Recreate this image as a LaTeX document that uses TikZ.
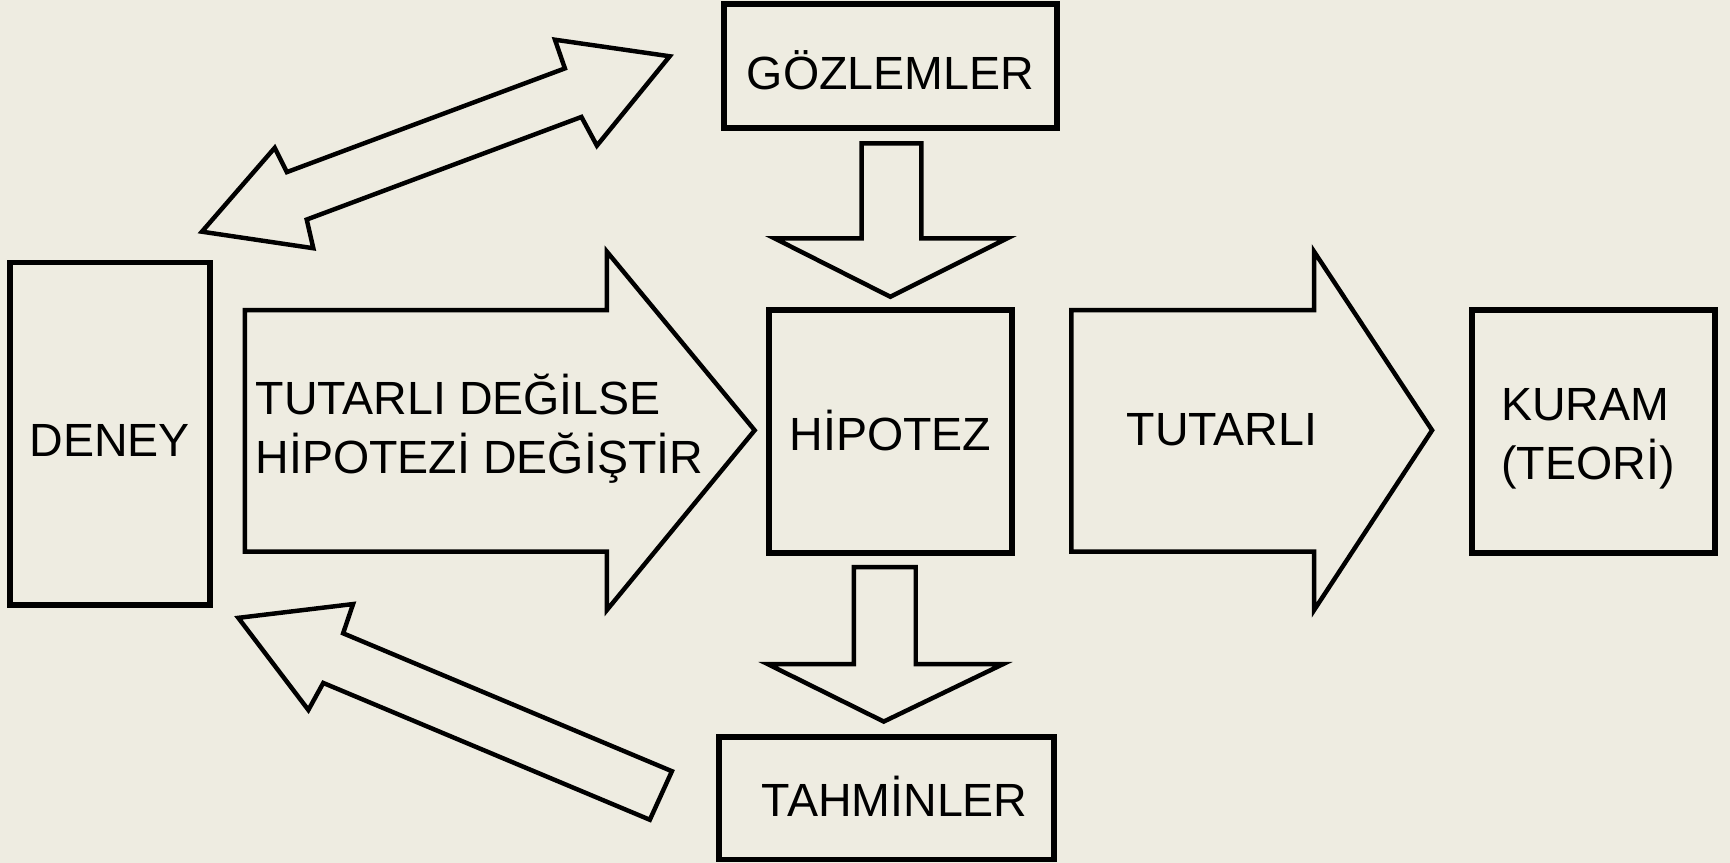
\documentclass[tikz,border=0pt]{standalone}
\usepackage{fontspec}
\setmainfont{Liberation Sans}
\usepackage{pgf,tikz}
\definecolor{zemin}{RGB}{238,236,225}

\begin{document}
\begin{tikzpicture}[x=0.01cm,y=-0.01cm,line join=miter, kutu/.style={draw=black,line width=1.5pt,inner sep=0pt}, okblok/.style={draw=black,line width=1.15pt}, yazi/.style={anchor=base,inner sep=0pt,text=black}]
    \fill[zemin] (0,0) rectangle (1568,782);
    \useasboundingbox (0,0) rectangle (1568,782);
    % kutular
    \node[kutu,minimum width=1.81cm,minimum height=3.10cm] (deney) at (99.5,393) {};
    \node[kutu,minimum width=3.02cm,minimum height=1.12cm] (gozlem) at (807,60) {};
    \node[kutu,minimum width=2.20cm,minimum height=2.20cm] (hipotez) at (807,391) {};
    \node[kutu,minimum width=2.20cm,minimum height=2.20cm] (kuram) at (1444,391) {};
    \node[kutu,minimum width=3.03cm,minimum height=1.11cm] (tahmin) at (803.5,723.5) {};
    % blok oklar
    \draw [okblok] (222,281) -- (550,281) -- (550,228) -- (684,390) -- (550,553) -- (550,500) -- (222,500) -- cycle;
    \draw [okblok] (971,281) -- (1191,281) -- (1191,228) -- (1298,390) -- (1191,553) -- (1191,500) -- (971,500) -- cycle;
    \draw [okblok] (781,130) -- (835,130) -- (835,216) -- (913,216) -- (807,269) -- (702,216) -- (781,216) -- cycle;
    \draw [okblok] (774,514) -- (830,514) -- (830,602) -- (909,602) -- (801,654) -- (696,602) -- (774,602) -- cycle;
    \draw [okblok] (183,210) -- (249,134) -- (260,156) -- (512,62) -- (503,36) -- (607,51) -- (541,132) -- (527,106) -- (278,199) -- (284,225) -- cycle;
    \draw [okblok] (216,560) -- (320,547.5) -- (311,574) -- (609,699) -- (589,743) -- (293,619) -- (279.5,643.5) -- cycle;
    \begin{large}
      \node[yazi] (deneyt) at (99.5,414) {DENEY};
      \node[yazi] (gozlemt) at (807,81.5) {GÖZLEMLER};
      \node[yazi] (hipotezt) at (807,408) {HİPOTEZ};
      \node[yazi] (tutarlit) at (1107.5,404) {TUTARLI};
      \node[yazi,anchor=base west] (kuramt) at (1360,381.5) {KURAM};
      \node[yazi,anchor=base west] (teorit) at (1360,435) {(TEORİ)};
      \node[yazi,anchor=base west] (degilset) at (231,376) {TUTARLI DEĞİLSE};
      \node[yazi,anchor=base west] (degistirt) at (231,429) {HİPOTEZİ DEĞİŞTİR};
      \node[yazi] (tahmint) at (811,740) {TAHMİNLER};
    \end{large}
\end{tikzpicture}
\end{document}
